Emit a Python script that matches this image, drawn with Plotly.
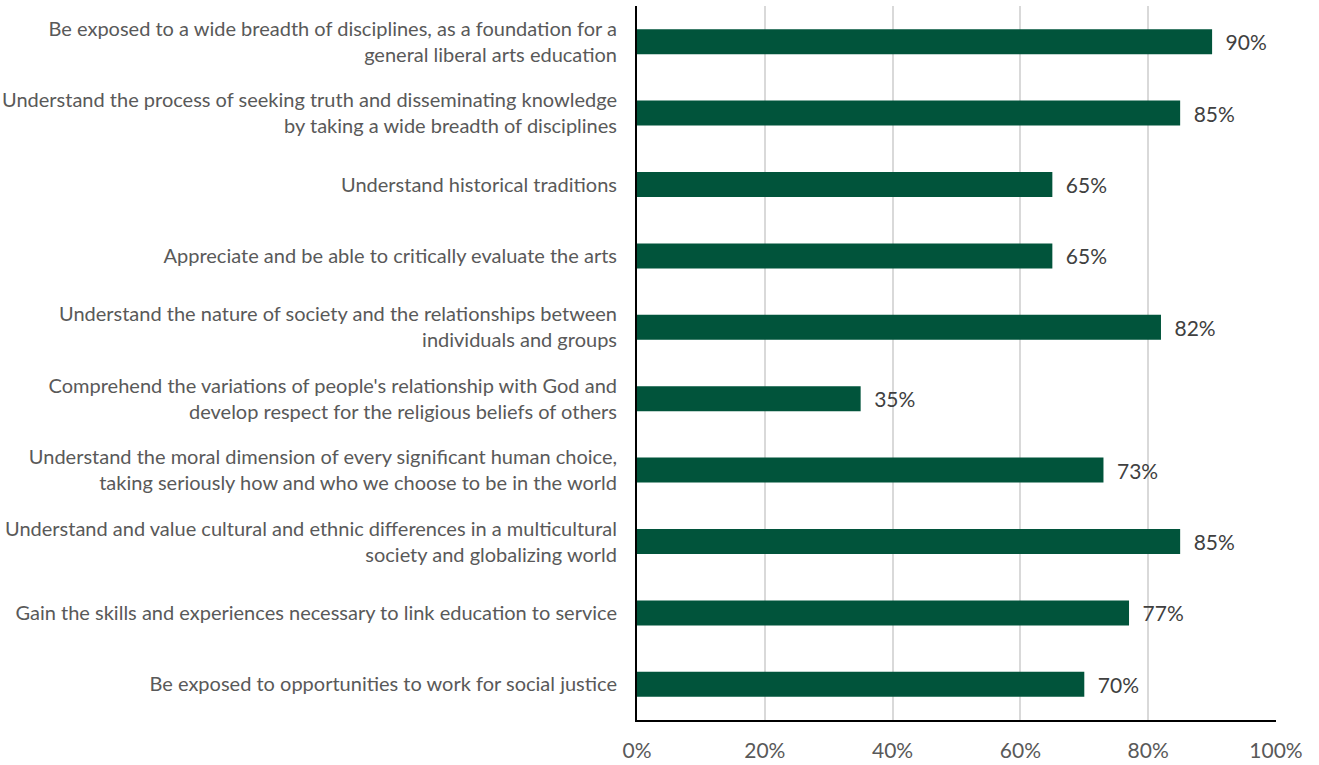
import plotly.graph_objects as go

goals = [
    "Be exposed to a wide breadth of disciplines, as a foundation for a<br>general liberal arts education",
    "Understand the process of seeking truth and disseminating knowledge<br>by taking a wide breadth of disciplines",
    "Understand historical traditions",
    "Appreciate and be able to critically evaluate the arts",
    "Understand the nature of society and the relationships between<br>individuals and groups",
    "Comprehend the variations of people's relationship with God and<br>develop respect for the religious beliefs of others",
    "Understand the moral dimension of every significant human choice,<br>taking seriously how and who we choose to be in the world",
    "Understand and value cultural and ethnic differences in a multicultural<br>society and globalizing world",
    "Gain the skills and experiences necessary to link education to service",
    "Be exposed to opportunities to work for social justice",
]
shares = [90, 85, 65, 65, 82, 35, 73, 85, 77, 70]
tick_vals = [0, 20, 40, 60, 80, 100]
tick_text = ["0%", "20%", "40%", "60%", "80%", "100%"]

FONT = "Lato, Noto Sans, sans-serif"

fig = go.Figure(
    go.Bar(
        x=shares,
        y=goals,
        orientation="h",
        marker=dict(color="#01543B", line=dict(width=0)),
        width=0.35,
        text=[f"\u2002{v}%" for v in shares],
        textposition="outside",
        textfont=dict(family=FONT, size=21, color="#404040"),
        cliponaxis=False,
    )
)

fig.update_layout(
    width=1319,
    height=765,
    margin=dict(l=637, r=43, t=6, b=45),
    plot_bgcolor="white",
    paper_bgcolor="white",
    showlegend=False,
    font=dict(family=FONT, color="#595959"),
)

fig.update_xaxes(
    range=[0, 100],
    tickvals=tick_vals,
    ticktext=tick_text,
    tickfont=dict(size=21, color="#595959"),
    showgrid=True,
    gridcolor="#D9D9D9",
    gridwidth=1.5,
    showline=True,
    linecolor="black",
    linewidth=2,
    ticks="",
    ticklabelstandoff=11,
    zeroline=False,
    automargin=False,
    fixedrange=True,
)

fig.update_yaxes(
    autorange="reversed",
    tickfont=dict(size=20, color="#595959"),
    showline=True,
    linecolor="black",
    linewidth=2,
    ticks="",
    ticklabelstandoff=14,
    showgrid=False,
    automargin=False,
    fixedrange=True,
)

fig.write_html("out.html")
